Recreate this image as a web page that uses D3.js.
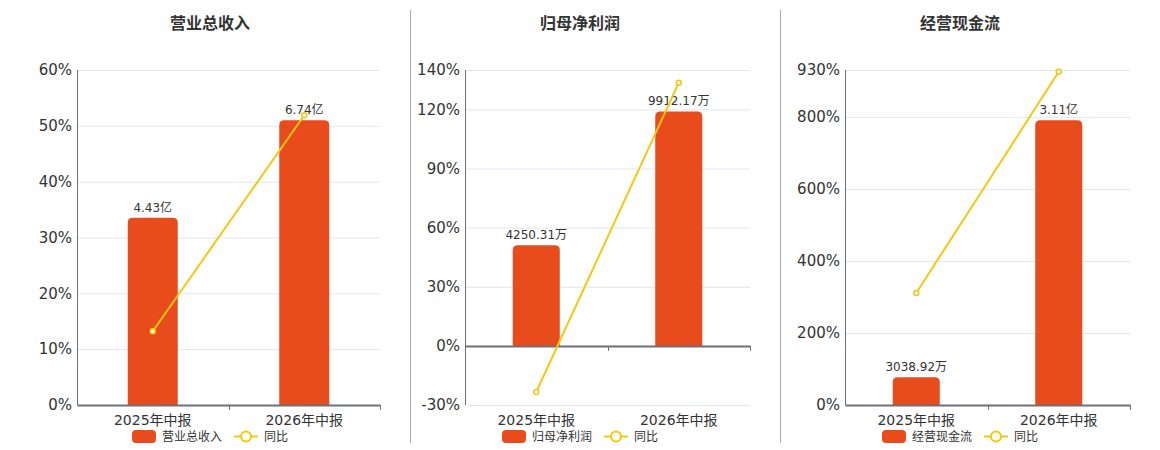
<!DOCTYPE html>
<html>
<head>
<meta charset="utf-8">
<script src="https://cdn.jsdelivr.net/npm/d3@7"></script>
<style>
  body { margin: 0; background: #fff; }
  svg { display: block; font-family: "DejaVu Sans", "Noto Sans CJK SC", sans-serif; }
</style>
</head>
<body>
<div id="chart"></div>
<script>
// Data (amounts in 万元, YoY in %)
const periods = ['2025年中报', '2026年中报'];
const titles = ['营业总收入', '归母净利润', '经营现金流'];
const revenue = [44300, 67400];
const revenueYoY = [13.2, 51.9];
const netProfit = [4250.31, 9912.17];
const netProfitYoY = [-23.4, 133.5];
const cashFlow = [3038.92, 31100];
const cashFlowYoY = [311, 925];
const ticksRevenue = [0, 10, 20, 30, 40, 50, 60];
const ticksProfit = [-30, 0, 30, 60, 90, 120, 140];
const ticksCash = [0, 200, 400, 600, 800, 930];

const BAR = '#E84B1C';
const LINE = '#F2C811';
const TEXT = '#333';
const AXIS = '#6E7079';
const GRID = '#E0E6F1';
const FONT = '"DejaVu Sans", "Noto Sans CJK SC", sans-serif';

const W = 1160, H = 450;
const plotTop = 70, plotBottom = 405;

const svg = d3.select('#chart').append('svg').attr('width', W).attr('height', H);

// panel separators
[410.5, 780.5].forEach(x => {
  svg.append('line').attr('x1', x).attr('x2', x).attr('y1', 10).attr('y2', 443)
    .attr('stroke', '#aaa').attr('stroke-width', 1);
});

const fmt = v => v >= 10000 ? (v / 10000).toFixed(2) + '亿' : v.toFixed(2) + '万';

const panels = [
  { title: titles[0], bars: revenue, yoy: revenueYoY, ticks: ticksRevenue, left: 77, right: 380, center: 210 },
  { title: titles[1], bars: netProfit, yoy: netProfitYoY, ticks: ticksProfit, left: 465, right: 750, center: 580 },
  { title: titles[2], bars: cashFlow, yoy: cashFlowYoY, ticks: ticksCash, left: 845, right: 1130, center: 960 },
];

panels.forEach(p => {
  const g = svg.append('g');
  const x = d3.scaleBand().domain(periods).range([p.left, p.right]);
  const y = d3.scaleLinear().domain(d3.extent(p.ticks)).range([plotBottom, plotTop]);
  const zeroY = y(0);
  // hidden bar axis, aligned at zero; biggest bar reaches ~85% of positive span
  const yBar = d3.scaleLinear().domain([0, d3.max(p.bars) / 0.85]).range([zeroY, plotTop]);

  // title
  g.append('text').attr('x', p.center).attr('y', 29).attr('text-anchor', 'middle')
    .attr('font-size', '16px').attr('font-weight', 'bold').attr('fill', TEXT)
    .style('font-family', '"Noto Sans CJK SC", sans-serif')
    .text(p.title);

  // grid + y labels
  g.append('g').attr('transform', `translate(${p.left},0)`)
    .call(d3.axisLeft(y).tickValues(p.ticks).tickSize(-(p.right - p.left)).tickPadding(5).tickFormat(d => d + '%'))
    .attr('font-family', FONT)
    .call(a => a.select('.domain').remove())
    .call(a => a.selectAll('.tick line').attr('stroke', GRID))
    .call(a => a.selectAll('.tick text').attr('fill', TEXT).attr('font-size', '15px'));

  // y axis line
  g.append('line').attr('x1', p.left + 0.5).attr('x2', p.left + 0.5).attr('y1', plotTop).attr('y2', plotBottom)
    .attr('stroke', AXIS);

  // bars with rounded top corners
  const bw = x.bandwidth() * 0.33;
  const r = 5;
  g.selectAll('path.bar').data(p.bars).join('path').attr('class', 'bar')
    .attr('fill', BAR)
    .attr('d', (d, i) => {
      const x0 = x(periods[i]) + (x.bandwidth() - bw) / 2;
      const x1 = x0 + bw;
      const yt = yBar(d);
      return `M${x0},${zeroY}V${yt + r}Q${x0},${yt} ${x0 + r},${yt}H${x1 - r}Q${x1},${yt} ${x1},${yt + r}V${zeroY}Z`;
    });

  // bar labels
  g.selectAll('text.blabel').data(p.bars).join('text').attr('class', 'blabel')
    .attr('x', (d, i) => x(periods[i]) + x.bandwidth() / 2)
    .attr('y', d => yBar(d) - 6)
    .attr('text-anchor', 'middle').attr('font-size', '12px').attr('fill', TEXT)
    .text(d => fmt(d));

  // x axis at zero
  g.append('g').attr('transform', `translate(0,${zeroY})`)
    .call(d3.axisBottom(x).tickSize(0).tickPadding(0).tickFormat(() => ''))
    .call(a => a.select('.domain').attr('stroke', AXIS).attr('stroke-width', 2))
    .call(a => a.selectAll('.tick').remove());
  periods.forEach(per => {
    const bx = Math.round(x(per) + x.bandwidth()) + 0.5;
    g.append('line').attr('x1', bx).attr('x2', bx).attr('y1', zeroY).attr('y2', zeroY + 5).attr('stroke', AXIS);
  });
  g.selectAll('text.xlabel').data(periods).join('text').attr('class', 'xlabel')
    .attr('x', d => x(d) + x.bandwidth() / 2).attr('y', 425)
    .attr('text-anchor', 'middle').attr('font-size', '14px').attr('fill', TEXT)
    .text(d => d);

  // YoY line
  const line = d3.line().x((d, i) => x(periods[i]) + x.bandwidth() / 2).y(d => y(d));
  g.append('path').datum(p.yoy).attr('fill', 'none').attr('stroke', LINE).attr('stroke-width', 2).attr('d', line);
  g.selectAll('circle.pt').data(p.yoy).join('circle').attr('class', 'pt')
    .attr('cx', (d, i) => x(periods[i]) + x.bandwidth() / 2).attr('cy', d => y(d))
    .attr('r', 2.5).attr('fill', '#fff').attr('stroke', LINE).attr('stroke-width', 1.5);

  // legend
  const lg = g.append('g');
  const t1 = lg.append('text').attr('font-size', '12px').attr('fill', TEXT).attr('y', 441).text(p.title);
  const t2 = lg.append('text').attr('font-size', '12px').attr('fill', TEXT).attr('y', 441).text('同比');
  const w1 = t1.node().getComputedTextLength();
  const w2 = t2.node().getComputedTextLength();
  const total = 24 + 6 + w1 + 12 + 24 + 6 + w2;
  let cx = p.center - total / 2;
  lg.append('rect').attr('x', cx).attr('y', 430).attr('width', 24).attr('height', 13).attr('rx', 4).attr('fill', BAR);
  cx += 30;
  t1.attr('x', cx);
  cx += w1 + 12;
  lg.append('line').attr('x1', cx).attr('x2', cx + 24).attr('y1', 436.5).attr('y2', 436.5).attr('stroke', LINE).attr('stroke-width', 2);
  lg.append('circle').attr('cx', cx + 12).attr('cy', 436.5).attr('r', 5).attr('fill', '#fff').attr('stroke', LINE).attr('stroke-width', 2);
  cx += 30;
  t2.attr('x', cx);
});
</script>
</body>
</html>
